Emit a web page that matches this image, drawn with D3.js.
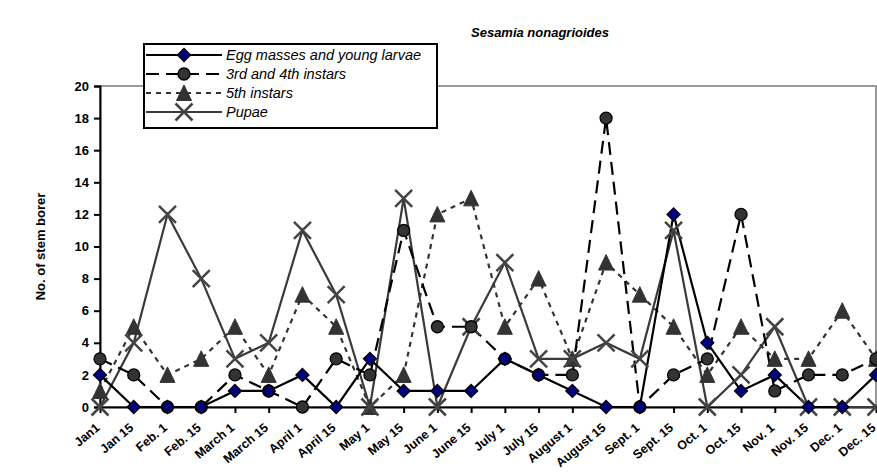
<!DOCTYPE html>
<html><head><meta charset="utf-8">
<script src="https://cdn.jsdelivr.net/npm/d3@7"></script>
<style>body{margin:0;background:#fff}svg{display:block;font-family:"Liberation Sans",Arial,sans-serif}</style>
</head><body><div id="chart"></div>
<script>
const categories = ["Jan1","Jan 15","Feb. 1","Feb. 15","March 1","March 15","April 1","April 15","May 1","May 15","June 1","June 15","July 1","July 15","August 1","August 15","Sept. 1","Sept. 15","Oct. 1","Oct. 15","Nov. 1","Nov. 15","Dec. 1","Dec. 15"];
const eggMasses = [2,0,0,0,1,1,2,0,3,1,1,1,3,2,1,0,0,12,4,1,2,0,0,2];
const instars34 = [3,2,0,0,2,1,0,3,2,11,5,5,3,2,2,18,0,2,3,12,1,2,2,3];
const instars5  = [1,5,2,3,5,2,7,5,0,2,12,13,5,8,3,9,7,5,2,5,3,3,6,3];
const pupae     = [0,4,12,8,3,4,11,7,0,13,0,5,9,3,3,4,3,11,0,2,5,0,0,0];
const yTicks = [0,2,4,6,8,10,12,14,16,18,20];
const seriesNames = ["Egg masses and young larvae","3rd and 4th instars","5th instars","Pupae"];
const title = "Sesamia nonagrioides";
const yLabel = "No. of stem borer";

const W = 877, H = 472;
const m = {left:100, right:1, top:86, bottom:65};
const svg = d3.select("#chart").append("svg").attr("width",W).attr("height",H);

const x = d3.scalePoint().domain(categories).range([m.left, W - m.right]);
const y = d3.scaleLinear().domain([0,20]).range([H - m.bottom, m.top]);

// plot area border (gray)
svg.append("rect").attr("x",m.left).attr("y",m.top)
  .attr("width",(W-m.right)-m.left).attr("height",(H-m.bottom)-m.top)
  .attr("fill","none").attr("stroke","#999").attr("stroke-width",2);

// title
svg.append("text").attr("x",540).attr("y",37).attr("text-anchor","middle")
  .attr("font-size",13).attr("font-weight","bold").attr("font-style","italic").text(title);

// y label
svg.append("text").attr("transform",`translate(45,${(m.top+H-m.bottom)/2}) rotate(-90)`)
  .attr("text-anchor","middle").attr("font-size",13).attr("font-weight","bold").text(yLabel);

// y axis
const yAxis = svg.append("g").attr("transform",`translate(${m.left},0)`)
  .call(d3.axisLeft(y).tickValues(yTicks).tickSize(6).tickPadding(5));
yAxis.selectAll("text").attr("font-size",13).attr("font-weight","bold").attr("fill","#000").attr("font-family","Liberation Sans, Arial, sans-serif");
yAxis.selectAll("line,path").attr("stroke","#000").attr("stroke-width",2);

// x axis
const xAxis = svg.append("g").attr("transform",`translate(0,${H-m.bottom})`)
  .call(d3.axisBottom(x).tickSize(6).tickSizeOuter(0));
xAxis.selectAll("line,path").attr("stroke","#000").attr("stroke-width",2);
xAxis.selectAll("text").attr("font-size",12.5).attr("font-weight","bold").attr("fill","#000")
  .attr("font-family","Liberation Sans, Arial, sans-serif")
  .attr("text-anchor","end").attr("dy",0).attr("y",0)
  .attr("transform","translate(0,22) rotate(-40)");

// series
const series = [
  {name:seriesNames[0], values:eggMasses, color:"#000", dash:null, marker:"diamond", fill:"#000080"},
  {name:seriesNames[1], values:instars34, color:"#000", dash:"13,7", marker:"circle", fill:"#333"},
  {name:seriesNames[2], values:instars5, color:"#333", dash:"5,5", marker:"triangle", fill:"#333"},
  {name:seriesNames[3], values:pupae, color:"#3a3a3a", dash:null, marker:"x", fill:"none"}
];

function drawMarker(g, type, cx, cy, fill){
  if(type==="diamond"){
    g.append("path").attr("d",`M${cx},${cy-6.5}L${cx+6.5},${cy}L${cx},${cy+6.5}L${cx-6.5},${cy}Z`)
      .attr("fill",fill).attr("stroke","#000").attr("stroke-width",1.3);
  } else if(type==="circle"){
    g.append("circle").attr("cx",cx).attr("cy",cy).attr("r",6)
      .attr("fill",fill).attr("stroke","#000").attr("stroke-width",1.3);
  } else if(type==="triangle"){
    g.append("path").attr("d",`M${cx},${cy-8}L${cx+7.5},${cy+7.5}L${cx-7.5},${cy+7.5}Z`)
      .attr("fill",fill).attr("stroke","#333").attr("stroke-width",1);
  } else {
    g.append("path").attr("d",`M${cx-8.5},${cy-8.5}L${cx+8.5},${cy+8.5}M${cx+8.5},${cy-8.5}L${cx-8.5},${cy+8.5}`)
      .attr("stroke","#444").attr("stroke-width",2.5).attr("fill","none");
  }
}

const line = d3.line().x((d,i)=>x(categories[i])).y(d=>y(d));
const order = [2,3,1,0];
order.forEach(k=>{
  const s = series[k];
  svg.append("path").datum(s.values).attr("d",line).attr("fill","none")
    .attr("stroke",s.color).attr("stroke-width",2.2).attr("stroke-dasharray",s.dash);
});
order.forEach(k=>{
  const s = series[k];
  const g = svg.append("g");
  s.values.forEach((v,i)=>drawMarker(g, s.marker, x(categories[i]), y(v), s.fill));
});

// legend
const lg = svg.append("g");
lg.append("rect").attr("x",144).attr("y",44).attr("width",293).attr("height",84)
  .attr("fill","#fff").attr("stroke","#000").attr("stroke-width",2);
const rowsY = [55,74,93,112];
series.forEach((s,i)=>{
  const yy = rowsY[i];
  lg.append("line").attr("x1",146).attr("x2",222).attr("y1",yy).attr("y2",yy)
    .attr("stroke",s.color).attr("stroke-width",2.2).attr("stroke-dasharray",s.dash);
  drawMarker(lg, s.marker, 184, yy, s.fill);
  lg.append("text").attr("x",226).attr("y",yy+5).attr("font-size",14.5).attr("font-style","italic").text(s.name);
});
</script></body></html>
